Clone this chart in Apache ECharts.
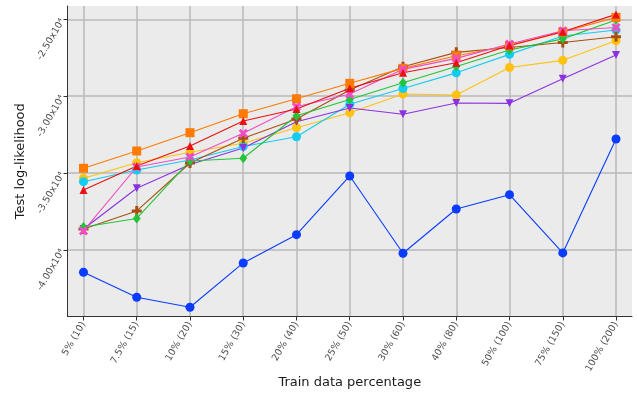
<!DOCTYPE html>
<html>
<head>
<meta charset="utf-8">
<script src="https://cdn.jsdelivr.net/npm/echarts@6/dist/echarts.min.js"></script>
<style>
  html, body { margin: 0; padding: 0; background: #ffffff; }
  #chart { width: 637px; height: 396px; }
</style>
</head>
<body>
<div id="chart"></div>
<script>
// Category labels along the x axis
const categories = ['5% (10)', '7.5% (15)', '10% (20)', '15% (30)', '20% (40)', '25% (50)',
  '30% (60)', '40% (80)', '50% (100)', '75% (150)', '100% (200)'];

// Tick values on the y axis
const yTicks = [-40000, -35000, -30000, -25000];

// Test log-likelihood per run
const blueCircle   = [-41450, -43076, -43726, -40846, -39005, -35189, -40215, -37334, -36405, -40195, -32783];
const yellowCircle = [-35338, -34324, -33648, -33062, -32048, -31073, -29857, -29922, -28134, -27666, -26391];
const cyanCircle   = [-35559, -34799, -34148, -33271, -32633, -30520, -29499, -28479, -27276, -26086, -25696];
const purpleDown   = [-38635, -35988, -34441, -33368, -31658, -30767, -31177, -30442, -30462, -28862, -27321];
const brownPlus    = [-38635, -37464, -34343, -32737, -31483, -29597, -28082, -27146, -26834, -26508, -26131];
const greenDiamond = [-38505, -37952, -34213, -34038, -31268, -30215, -29122, -28069, -26996, -26268, -25046];
const orangeSquare = [-34688, -33563, -32373, -31138, -30163, -29161, -28186, -27367, -26717, -25826, -24870];
const pinkCross    = [-38765, -34603, -33953, -32412, -30683, -29857, -28251, -27536, -26606, -25741, -25533];
const redTriangle  = [-36099, -34538, -33238, -31613, -30832, -29486, -28472, -27822, -26704, -25806, -24675];

const plusPath = 'path://M3.5,0 H6.5 V3.5 H10 V6.5 H6.5 V10 H3.5 V6.5 H0 V3.5 H3.5 Z';

function makeSeries(name, values, color, symbol, size, rotate) {
  return {
    name: name,
    type: 'line',
    data: values.map((v, i) => [i, v]),
    symbol: symbol,
    symbolSize: size,
    symbolRotate: rotate || 0,
    lineStyle: { color: color, width: 1.1 },
    itemStyle: { color: color },
    emphasis: { disabled: true },
    animation: false
  };
}

const fontFamily = 'DejaVu Sans';

const chart = echarts.init(document.getElementById('chart'), null, { renderer: 'canvas' });

chart.setOption({
  backgroundColor: '#ffffff',
  animation: false,
  grid: {
    left: 67.5, right: 5, top: 6, bottom: 79.5,
    outerBoundsMode: 'none',
    containLabel: false,
    show: true, backgroundColor: '#ebebeb', borderWidth: 0
  },
  xAxis: {
    type: 'value',
    min: -0.3, max: 10.3,
    name: 'Train data percentage',
    nameLocation: 'middle',
    nameGap: 60,
    nameMoveOverlap: false,
    nameTextStyle: { fontFamily: fontFamily, fontSize: 13, color: '#1a1a1a' },
    axisLine: { show: true, onZero: false, lineStyle: { color: '#333333', width: 1 } },
    axisTick: { show: true, length: 4, lineStyle: { color: '#333333' },
      customValues: categories.map((c, i) => i) },
    axisLabel: {
      customValues: categories.map((c, i) => i),
      formatter: v => categories[Math.round(v)],
      rotate: 60, fontFamily: fontFamily, fontSize: 9.5, color: '#4d4d4d', margin: 6
    },
    splitLine: { show: true, lineStyle: { color: '#b8b8b8', width: 1.5 } }
  },
  yAxis: {
    type: 'value',
    min: -44330, max: -24130,
    name: 'Test log-likelihood',
    nameLocation: 'middle',
    nameGap: 40,
    nameMoveOverlap: false,
    nameTextStyle: { fontFamily: fontFamily, fontSize: 13, color: '#1a1a1a' },
    axisLine: { show: true, onZero: false, lineStyle: { color: '#333333', width: 1 } },
    axisTick: { show: true, length: 4, lineStyle: { color: '#333333' }, customValues: yTicks },
    axisLabel: {
      customValues: yTicks,
      formatter: v => (v / 10000).toFixed(2) + 'x10\u2074',
      rotate: 60, fontFamily: fontFamily, fontSize: 9.5, color: '#4d4d4d', margin: 5
    },
    splitLine: { show: true, lineStyle: { color: '#b8b8b8', width: 1.5 } }
  },
  series: [
    makeSeries('blue', blueCircle, '#0a3cff', 'circle', 9),
    makeSeries('yellow', yellowCircle, '#ffc20e', 'circle', 9),
    makeSeries('cyan', cyanCircle, '#12ccf2', 'circle', 9),
    makeSeries('purple', purpleDown, '#8b32e0', 'triangle', 8, 180),
    makeSeries('brown', brownPlus, '#a94e10', plusPath, 10),
    makeSeries('green', greenDiamond, '#22c43a', 'diamond', [8, 10]),
    makeSeries('orange', orangeSquare, '#ff7a00', 'rect', 9),
    makeSeries('pink', pinkCross, '#f04cc4', plusPath, 10, 45),
    makeSeries('red', redTriangle, '#ea1010', 'triangle', 8)
  ]
});
</script>
</body>
</html>
